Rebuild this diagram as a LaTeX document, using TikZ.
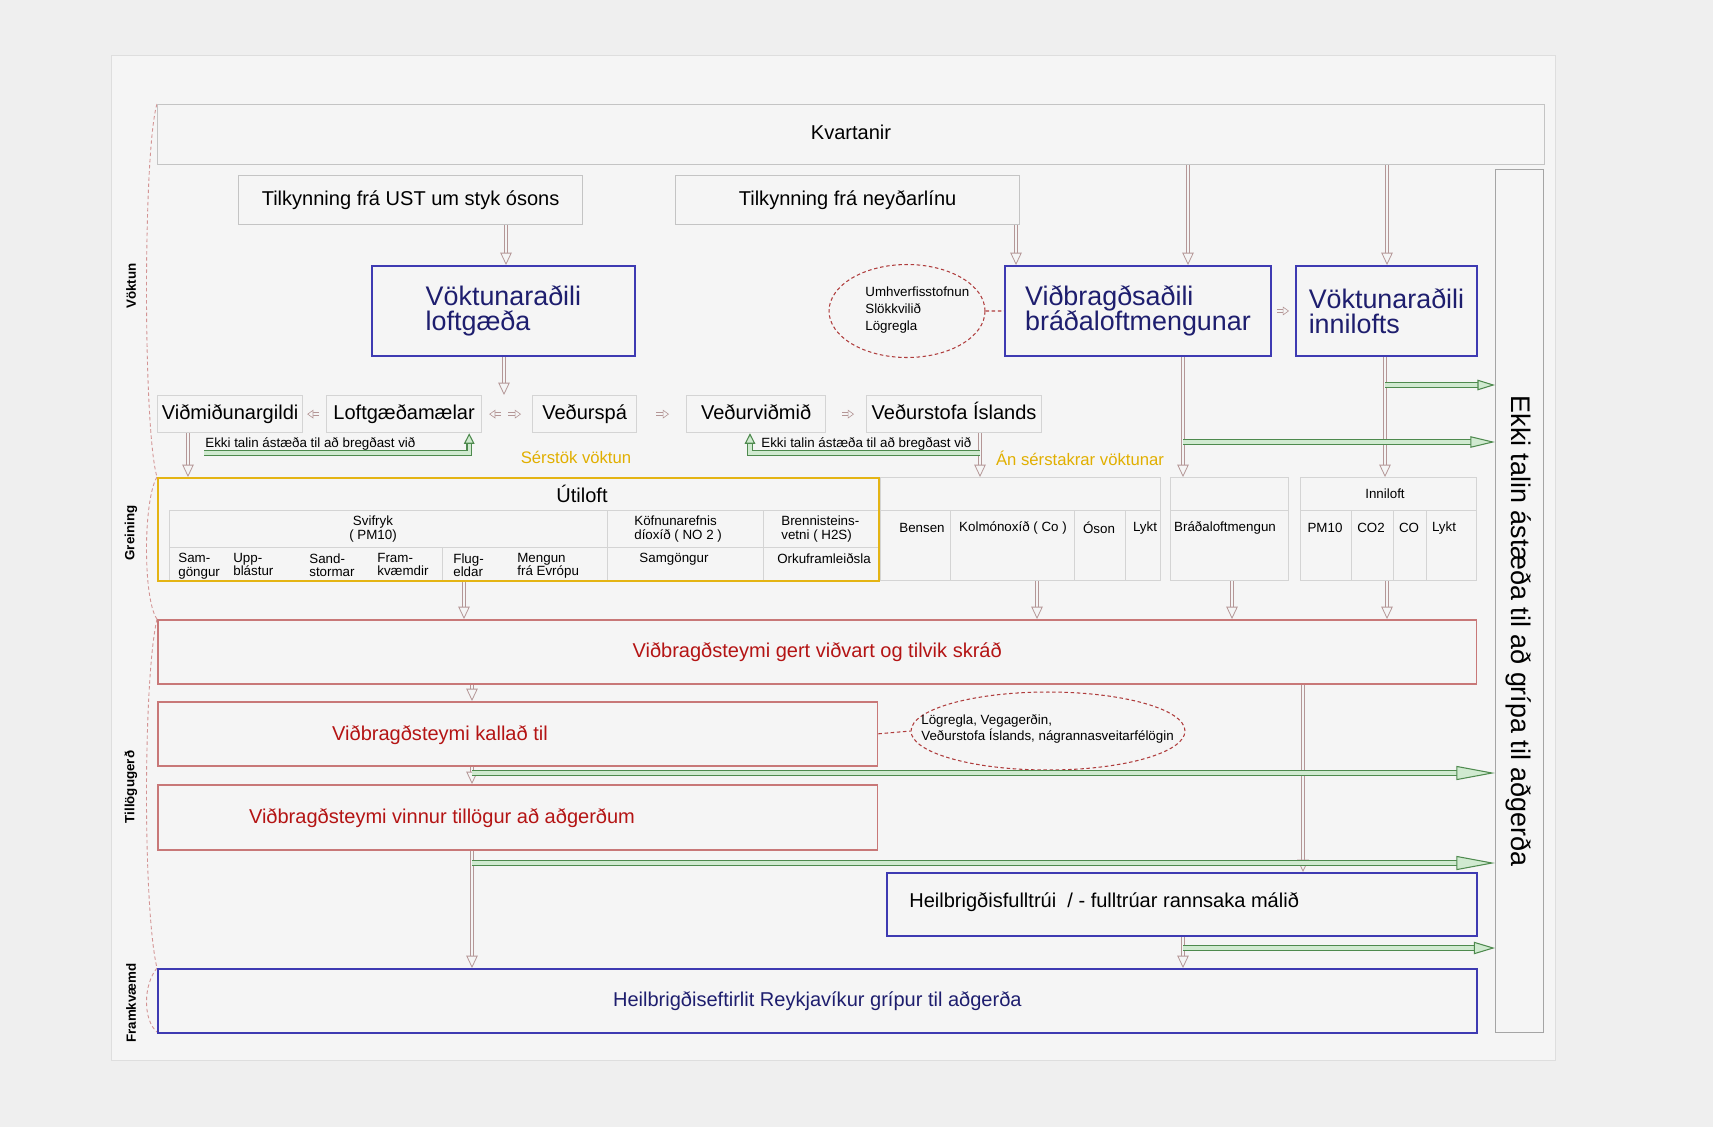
\documentclass[tikz,border=0pt]{standalone}
\usepackage{fontspec}
\setmainfont{Liberation Sans}
\usetikzlibrary{arrows.meta,shapes.geometric,positioning}

\definecolor{outerbg}{RGB}{239,239,239}
\definecolor{panelbg}{RGB}{245,245,245}
\definecolor{panelline}{RGB}{222,222,222}
\definecolor{boxline}{RGB}{196,196,196}
\definecolor{tallline}{RGB}{165,165,165}
\definecolor{blueline}{RGB}{62,58,178}
\definecolor{navytext}{RGB}{30,30,110}
\definecolor{redline}{RGB}{200,120,120}
\definecolor{redtext}{RGB}{180,20,20}
\definecolor{goldline}{RGB}{228,180,20}
\definecolor{goldtext}{RGB}{225,175,0}
\definecolor{connline}{RGB}{180,150,150}
\definecolor{greenline}{RGB}{78,138,78}
\definecolor{greenfill}{RGB}{208,234,208}
\definecolor{dashred}{RGB}{175,60,60}
\definecolor{tableline}{RGB}{212,212,212}

\newcommand{\fbig}{\fontsize{15.3}{14.5}\selectfont}
\newcommand{\fmed}{\fontsize{11.4}{13}\selectfont}
\newcommand{\fnote}{\fontsize{9.5}{11}\selectfont}
\newcommand{\fsmall}{\fontsize{7.6}{7.6}\selectfont}

\begin{document}
\begin{tikzpicture}[x=0.02cm, y=-0.02cm]
    \tikzstyle{graybox}=[draw=boxline, line width=0.7pt, fill=panelbg, anchor=north west, inner sep=0pt, font=\fmed, text height=8.4pt, text depth=2.4pt];
    \tikzstyle{bluebox}=[draw=blueline, line width=1.1pt, fill=panelbg, anchor=north west, inner sep=0pt, font=\fbig, text=navytext, align=left];
    \tikzstyle{redbox}=[draw=redline, line width=0.9pt, fill=panelbg, anchor=north west, inner sep=0pt, font=\fmed, text=redtext];
    \tikzstyle{tabbox}=[draw=tableline, line width=0.6pt, anchor=north west, inner sep=0pt];
    \tikzstyle{tabtxt}=[font=\fsmall, inner sep=0pt, align=left];
    \tikzstyle{cloud}=[ellipse, draw=dashred, dash pattern=on 2pt off 1.5pt, line width=0.6pt, inner sep=0pt];
    \tikzstyle{conn}=[draw=connline, line width=0.45pt, double=panelbg, double distance=1.3pt, -{Triangle[length=7pt, width=6.5pt, fill=panelbg]}];
    \tikzstyle{smallarr}=[draw=connline, line width=0.35pt, double=panelbg, double distance=1.2pt, -{Triangle[length=3.5pt, width=5pt, fill=panelbg]}];
    \tikzstyle{greenarr}=[draw=greenline, line width=0.6pt, double=greenfill, double distance=1.9pt, -{Triangle[length=22pt, width=8pt, fill=greenfill]}];
    \tikzstyle{dashline}=[draw=dashred, dash pattern=on 2pt off 1.5pt, line width=0.6pt];
    \tikzstyle{brace}=[draw=dashred!55, dash pattern=on 2pt off 1.5pt, line width=0.5pt];

    \useasboundingbox (0,0) rectangle (1713,1127);
    \fill[outerbg] (0,0) rectangle (1713,1127);
    \draw[panelline, fill=panelbg] (111,55) rectangle (1555,1060);

    % phases on the left
    \draw[brace] (157,104) .. controls (143,150) and (143,430) .. (157,477);
    \draw[brace] (157,477) .. controls (143,500) and (143,600) .. (157,619);
    \draw[brace] (157,619) .. controls (143,680) and (143,910) .. (157,968);
    \draw[brace] (157,968) .. controls (143,985) and (143,1020) .. (157,1032);
    \node[rotate=90, font=\fsmall\bfseries] (lvok) at (131,286) {Vöktun};
    \node[rotate=90, font=\fsmall\bfseries] (lgre) at (131,533) {Greining};
    \node[rotate=90, font=\fsmall\bfseries] (ltil) at (131,787) {Tillögugerð};
    \node[rotate=90, font=\fsmall\bfseries] (lfra) at (131,1003) {Framkvæmd};

    % top
    \node[graybox, minimum width=27.74cm, minimum height=1.2cm] (kvart) at (157,104) {Kvartanir};
    \node[graybox, minimum width=6.88cm, minimum height=0.98cm] (ust) at (238,175) {Tilkynning frá UST um styk ósons};
    \node[graybox, minimum width=6.88cm, minimum height=0.98cm] (neyd) at (675,175) {Tilkynning frá neyðarlínu};
    \node[bluebox, minimum width=5.26cm, minimum height=1.8cm] (vlg) at (371,265) {Vöktunaraðili\\loftgæða};
    \node[bluebox, minimum width=5.32cm, minimum height=1.8cm] (vbr) at (1004,265) {Viðbragðsaðili\\bráðaloftmengunar};
    \node[bluebox, minimum width=3.62cm, minimum height=1.8cm] (vinni) at (1295,265) {Vöktunaraðili\\innilofts};
    \node[cloud, minimum width=3.12cm, minimum height=1.86cm] (ell1) at (907,311) {};
    \node[font=\fontsize{7.6}{9.7}\selectfont, align=left, anchor=west, inner sep=0pt] (ell1txt) at (865,310) {Umhverfisstofnun\\Slökkvilið\\Lögregla};
    \node[graybox, draw=tallline, minimum width=0.96cm, minimum height=17.26cm] (ekki) at (1495,169) {};
    \node[rotate=-90, font=\fbig] (ekkitxt) at (1519,631) {Ekki talin ástæða til að grípa til aðgerða};

    % row of sources
    \node[graybox, draw=tableline, minimum width=2.9cm, minimum height=0.74cm] (vidm) at (157,395) {Viðmiðunargildi};
    \node[graybox, draw=tableline, minimum width=3.1cm, minimum height=0.74cm] (loftm) at (326,395) {Loftgæðamælar};
    \node[graybox, draw=tableline, minimum width=2.08cm, minimum height=0.74cm] (vedursp) at (532,395) {Veðurspá};
    \node[graybox, draw=tableline, minimum width=2.78cm, minimum height=0.74cm] (vedurv) at (686,395) {Veðurviðmið};
    \node[graybox, draw=tableline, minimum width=3.5cm, minimum height=0.74cm] (vedurst) at (866,395) {Veðurstofa Íslands};
    \node[font=\fsmall, anchor=west, inner sep=0pt] (ekki1) at (205,444) {Ekki talin ástæða til að bregðast við};
    \node[font=\fsmall, anchor=west, inner sep=0pt] (ekki2) at (761,444) {Ekki talin ástæða til að bregðast við};
    \node[font=\fnote, text=goldtext] (serst) at (576,457) {Sérstök vöktun};
    \node[font=\fnote, text=goldtext] (anserst) at (1080,458) {Án sérstakrar vöktunar};

    % Útiloft table
    \draw[tableline] (169,510) -- (878,510) (169,547) -- (878,547);
    \draw[tableline] (169,510) -- (169,580) (607,510) -- (607,580) (763,510) -- (763,580) (442,547) -- (442,580);
    \node[anchor=north west, draw=goldline, line width=1.3pt, inner sep=0pt, minimum width=14.42cm, minimum height=2.06cm] (util) at (157,477) {};
    \node[font=\fmed] (utitxt) at (582,494) {Útiloft};
    \node[tabtxt, align=center] (svif) at (373,529) {Svifryk\\( PM10)};
    \node[tabtxt, anchor=west] (kofn) at (634,529) {Köfnunarefnis\\díoxíð ( NO 2 )};
    \node[tabtxt, anchor=west] (brenn) at (781,529) {Brennisteins-\\vetni ( H2S)};
    \foreach \t/\x [count=\i] in {Sam-\\göngur/178, Upp-\\blástur/233, Sand-\\stormar/309, Fram-\\kvæmdir/377, Flug-\\eldar/453, Mengun\\frá Evrópu/517}
        \node[tabtxt, anchor=north west] (src\i) at (\x,553) {\t};
    \node[tabtxt, anchor=north] (samg) at (674,553) {Samgöngur};
    \node[tabtxt, anchor=north] (orku) at (824,553) {Orkuframleiðsla};

    % other measurements
    \node[tabbox, minimum width=5.6cm, minimum height=2.06cm] (grp1) at (880,477) {};
    \node[tabbox, minimum width=2.36cm, minimum height=2.06cm] (grp2) at (1170,477) {};
    \node[tabbox, minimum width=3.52cm, minimum height=2.06cm] (grp3) at (1300,477) {};
    \draw[tableline] (880,510) -- (1160,510) (1170,510) -- (1288,510) (1300,510) -- (1476,510);
    \foreach \x in {950,1074,1125,1351,1393,1426}
        \draw[tableline] (\x,510) -- (\x,580);
    \node[tabtxt] (inni) at (1385,494) {Inniloft};
    \foreach \t/\x [count=\i] in {Bensen/922, {Kolmónoxíð ( Co )}/1013, Óson/1099, Lykt/1145, Bráðaloftmengun/1225, PM10/1325, CO2/1371, CO/1409, Lykt/1444}
        \node[tabtxt] (mael\i) at (\x,528) {\t};

    % response
    \node[redbox, minimum width=26.38cm, minimum height=1.28cm] (gert) at (157,619) {Viðbragðsteymi gert viðvart og tilvik skráð};
    \node[redbox, minimum width=14.4cm, minimum height=1.28cm] (kall) at (157,701) {};
    \node[font=\fmed, text=redtext] (kalltxt) at (440,735) {Viðbragðsteymi kallað til};
    \node[redbox, minimum width=14.4cm, minimum height=1.3cm] (vinnur) at (157,784) {};
    \node[font=\fmed, text=redtext] (vinnurtxt) at (442,818) {Viðbragðsteymi vinnur tillögur að aðgerðum};
    \node[cloud, minimum width=5.48cm, minimum height=1.56cm] (ell2) at (1048,731) {};
    \node[font=\fontsize{7.6}{6.9}\selectfont, align=left, anchor=west, inner sep=0pt] (ell2txt) at (921,729) {Lögregla, Vegagerðin,\\Veðurstofa Íslands, nágrannasveitarfélögin};
    \node[bluebox, font=\fmed, minimum width=11.8cm, minimum height=1.26cm] (hfull) at (886,872) {};
    \node[font=\fmed, anchor=west, inner sep=0pt] (hfulltxt) at (909,902) {Heilbrigðisfulltrúi\ \ / - fulltrúar rannsaka málið};
    \node[bluebox, font=\fmed, minimum width=26.38cm, minimum height=1.28cm] (heft) at (157,968) {Heilbrigðiseftirlit Reykjavíkur grípur til aðgerða};

    % connectors
    \foreach \n/\x in {ka/1188, kb/1387, kc/506, kd/1016, ke/504, kf/188, kg/980, kh/1183, ki/1385, kj/464, kk/1037, kl/1232, km/1387, kn/472, kq/1303}
        \coordinate (\n) at (\x,0);
    \draw[conn] (kvart.south -| ka) -- (vbr.north -| ka);
    \draw[conn] (kvart.south -| kb) -- (vinni.north -| kb);
    \draw[conn] (ust.south -| kc) -- (vlg.north -| kc);
    \draw[conn] (neyd.south -| kd) -- (vbr.north -| kd);
    \draw[conn] (vlg.south -| ke) -- (loftm.north -| ke);
    \draw[conn] (vidm.south -| kf) -- (util.north -| kf);
    \draw[conn] (vedurst.south -| kg) -- (grp1.north -| kg);
    \draw[conn] (vbr.south -| kh) -- (grp2.north -| kh);
    \draw[conn] (vinni.south -| ki) -- (grp3.north -| ki);
    \draw[conn] (util.south -| kj) -- (gert.north -| kj);
    \draw[conn] (grp1.south -| kk) -- (gert.north -| kk);
    \draw[conn] (grp2.south -| kl) -- (gert.north -| kl);
    \draw[conn] (grp3.south -| km) -- (gert.north -| km);
    \draw[conn] (gert.south -| kn) -- (kall.north -| kn);
    \draw[conn] (kall.south -| kn) -- (vinnur.north -| kn);
    \draw[conn] (vinnur.south -| kn) -- (heft.north -| kn);
    \draw[conn] (gert.south -| kq) -- (hfull.north -| kq);
    \draw[conn] (hfull.south -| kh) -- (heft.north -| kh);

    \draw[smallarr, shorten <=0.14cm, shorten >=0.08cm] (loftm.west) -- (vidm.east);
    \draw[smallarr, shorten <=0.62cm, shorten >=0.14cm] (vedursp.west) -- (loftm.east);
    \draw[smallarr, shorten <=0.52cm, shorten >=0.22cm] (loftm.east) -- (vedursp.west);
    \draw[smallarr, shorten <=0.38cm, shorten >=0.34cm] (vedursp.east) -- (vedurv.west);
    \draw[smallarr, shorten <=0.32cm, shorten >=0.24cm] (vedurv.east) -- (vedurst.west);
    \draw[smallarr, shorten <=0.1cm, shorten >=0.12cm] (vbr.east) -- (vinni.west);

    \draw[dashline] (ell1.east) -- (vbr.west);
    \draw[dashline] (kall.east) -- (ell2.west);

    % not a reason to act
    \coordinate (gs1) at (1385,385);
    \coordinate (gs2) at (1183,442);
    \coordinate (gs3) at (472,773);
    \coordinate (gs4) at (472,863);
    \coordinate (gs5) at (1183,948);
    \coordinate (gs6) at (204,453);
    \coordinate (gs7) at (980,453);
    \draw[greenarr, -{Triangle[length=10pt, width=6pt, fill=greenfill]}] (gs1) -- (gs1 -| ekki.west);
    \draw[greenarr, -{Triangle[length=14pt, width=6.5pt, fill=greenfill]}] (gs2) -- (gs2 -| ekki.west);
    \draw[greenarr] (gs3) -- (gs3 -| ekki.west);
    \draw[greenarr] (gs4) -- (gs4 -| ekki.west);
    \draw[greenarr, -{Triangle[length=12pt, width=7pt, fill=greenfill]}] (gs5) -- (gs5 -| ekki.west);
    \draw[greenarr, -{Triangle[length=6pt, width=6pt, fill=greenfill]}] (gs6) -| ([xshift=-0.26cm]loftm.south east);
    \draw[greenarr, -{Triangle[length=6pt, width=6pt, fill=greenfill]}] (gs7) -| ([xshift=1.28cm]vedurv.south west);
\end{tikzpicture}
\end{document}
